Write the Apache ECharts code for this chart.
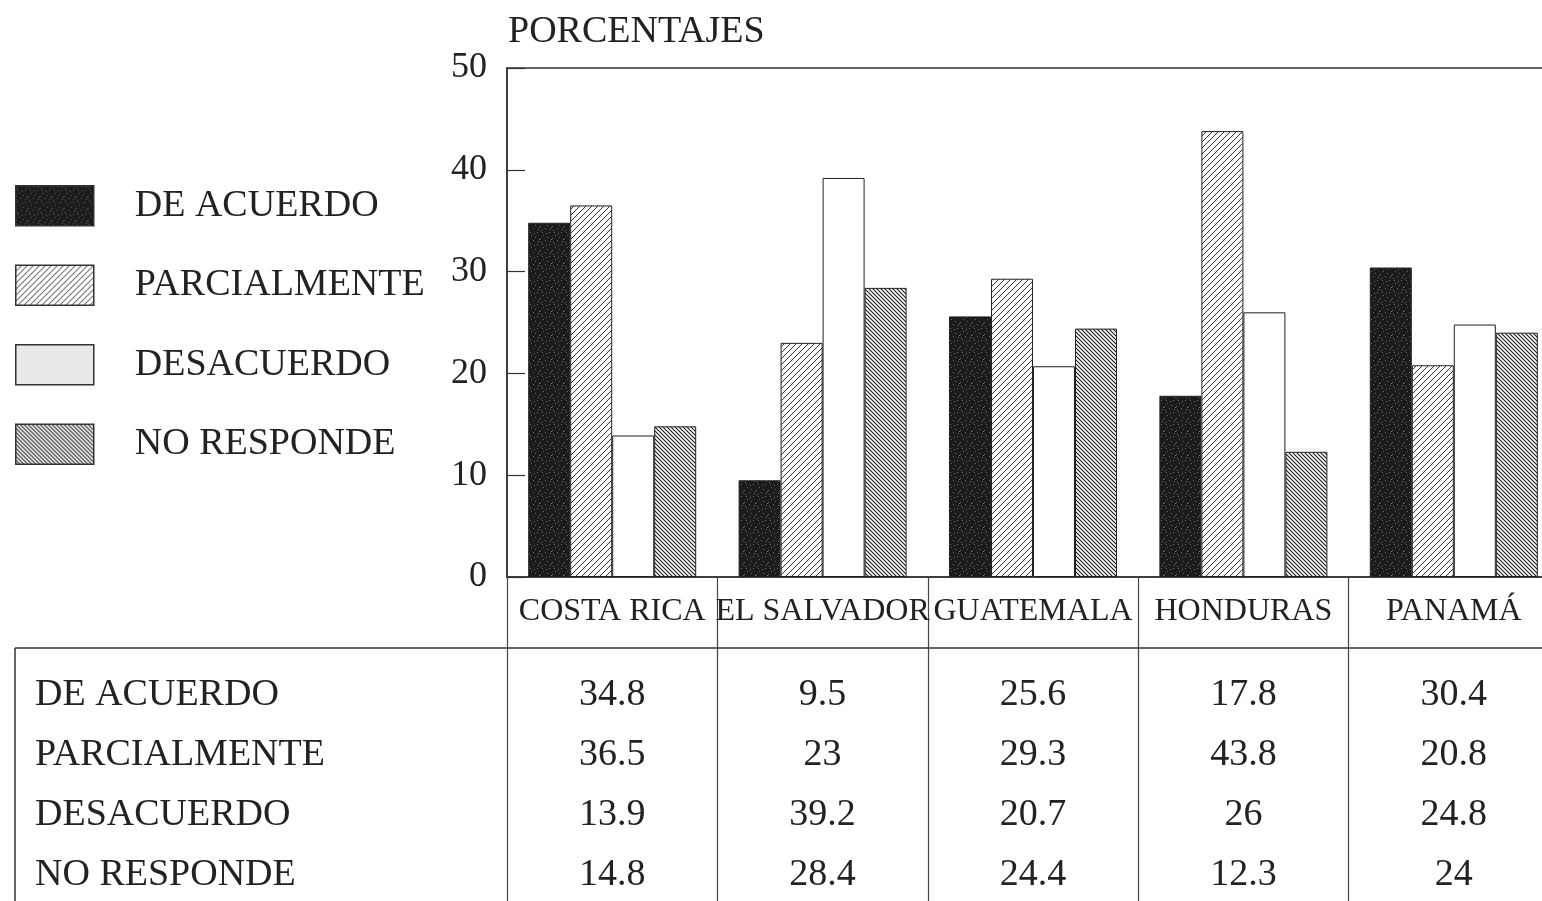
<!DOCTYPE html>
<html>
<head>
<meta charset="utf-8">
<script src="https://cdn.jsdelivr.net/npm/echarts@6/dist/echarts.min.js"></script>
<style>html,body{margin:0;padding:0;background:#fff;overflow:hidden;width:1542px;height:901px;}#c{width:1560px;height:901px;}</style>
</head>
<body>
<div id="c"></div>
<script>
var categories = ['COSTA RICA', 'EL SALVADOR', 'GUATEMALA', 'HONDURAS', 'PANAMÁ'];
var seriesNames = ['DE ACUERDO', 'PARCIALMENTE', 'DESACUERDO', 'NO RESPONDE'];
var deAcuerdo    = [34.8, 9.5, 25.6, 17.8, 30.4];
var parcialmente = [36.5, 23, 29.3, 43.8, 20.8];
var desacuerdo   = [13.9, 39.2, 20.7, 26, 24.8];
var noResponde   = [14.8, 28.4, 24.4, 12.3, 24];
var yTicks = [0, 10, 20, 30, 40, 50];
var tableRows = [deAcuerdo, parcialmente, desacuerdo, noResponde];

var FONT = '"Liberation Serif", "DejaVu Serif", serif';
var INK = '#222';

function makeCanvas(w, h, draw) {
  var c = document.createElement('canvas');
  c.width = w; c.height = h;
  draw(c.getContext('2d'), w, h);
  return c;
}
var darkPat = makeCanvas(12, 12, function (g, w, h) {
  g.fillStyle = '#1b1b1b'; g.fillRect(0, 0, w, h);
  g.fillStyle = '#6a6a6a';
  var pts = [[1,2],[5,0],[9,4],[3,7],[7,9],[11,11],[0,10],[6,5],[10,1],[2,4]];
  pts.forEach(function (p) { g.fillRect(p[0], p[1], 1, 1); });
});
var slashPat = makeCanvas(6, 6, function (g, w, h) {
  g.fillStyle = '#fff'; g.fillRect(0, 0, w, h);
  g.strokeStyle = '#333'; g.lineWidth = 1;
  g.beginPath();
  g.moveTo(-1, h + 1); g.lineTo(w + 1, -1);
  g.moveTo(-1, 1); g.lineTo(1, -1);
  g.moveTo(w - 1, h + 1); g.lineTo(w + 1, h - 1);
  g.stroke();
});
var backPat = makeCanvas(4, 4, function (g, w, h) {
  g.fillStyle = '#fff'; g.fillRect(0, 0, w, h);
  g.strokeStyle = '#1a1a1a'; g.lineWidth = 1.1;
  g.beginPath();
  g.moveTo(-1, -1); g.lineTo(w + 1, h + 1);
  g.moveTo(-1, h - 1); g.lineTo(1, h + 1);
  g.moveTo(w - 1, -1); g.lineTo(w + 1, 1);
  g.stroke();
});
var lightPat = makeCanvas(4, 4, function (g, w, h) {
  g.fillStyle = '#ececec'; g.fillRect(0, 0, w, h);
  g.fillStyle = '#d0d0d0'; g.fillRect(0, 0, 1, 1); g.fillRect(2, 2, 1, 1);
});

var fills = [
  { image: darkPat, repeat: 'repeat' },
  { image: slashPat, repeat: 'repeat' },
  '#ffffff',
  { image: backPat, repeat: 'repeat' }
];
var legendFills = [fills[0], fills[1], { image: lightPat, repeat: 'repeat' }, fills[3]];
var seriesData = [deAcuerdo, parcialmente, desacuerdo, noResponde];

var gridTop = 68, gridBottomY = 577;
var rowY = [695, 755, 815, 875];

var xAxes = [{
  type: 'category', data: categories, gridIndex: 0, position: 'bottom',
  axisLine: { show: true, lineStyle: { color: '#333', width: 1.5 } },
  axisTick: { show: true, interval: 0, length: 330, alignWithLabel: false, lineStyle: { color: '#444', width: 1.2 } },
  axisLabel: { interval: 0, color: INK, fontFamily: FONT, fontSize: 32, margin: 35, verticalAlign: 'middle' }
}];
rowY.forEach(function (y, r) {
  xAxes.push({
    type: 'category', data: categories, gridIndex: 0, position: 'bottom',
    offset: y - gridBottomY,
    axisLine: { show: false }, axisTick: { show: false }, splitLine: { show: false },
    axisLabel: {
      interval: 0, color: INK, fontFamily: FONT, fontSize: 38, margin: 0, verticalAlign: 'middle',
      formatter: function (v, i) { return String(tableRows[r][i]); }
    }
  });
});

var graphics = [
  { type: 'line', shape: { x1: 15, y1: 648, x2: 1560, y2: 648 }, style: { stroke: '#333', lineWidth: 1.5 } },
  { type: 'line', shape: { x1: 15, y1: 648, x2: 15, y2: 901 }, style: { stroke: '#333', lineWidth: 1.5 } },
  { type: 'text', x: 508, y: 32, style: { text: 'PORCENTAJES', fill: INK, font: '38px ' + FONT, verticalAlign: 'middle' } }
];
seriesNames.forEach(function (n, i) {
  graphics.push({ type: 'text', x: 35, y: rowY[i], style: { text: n, fill: INK, font: '38px ' + FONT, verticalAlign: 'middle' } });
});

var chart = echarts.init(document.getElementById('c'), null, { renderer: 'canvas' });
chart.setOption({
  animation: false,
  backgroundColor: '#fff',
  grid: { left: 507, top: gridTop, right: 1, bottom: 901 - gridBottomY, show: true, borderColor: '#333', borderWidth: 1.5 },
  legend: {
    orient: 'vertical', left: 15, top: 185, padding: 0, itemWidth: 78, itemHeight: 40, itemGap: 38,
    selectedMode: false, icon: 'rect',
    textStyle: { color: INK, fontFamily: FONT, fontSize: 38, padding: [0, 0, 0, 36] },
    data: seriesNames.map(function (n, i) {
      return { name: n, itemStyle: { color: legendFills[i], borderColor: '#333', borderWidth: 1.5 } };
    })
  },
  xAxis: xAxes,
  yAxis: {
    type: 'value', min: 0, max: 50, interval: 10,
    axisLine: { show: true, lineStyle: { color: '#333', width: 1.5 } },
    axisTick: { show: true, inside: true, length: 18, lineStyle: { color: '#333', width: 1.2 } },
    splitLine: { show: false },
    axisLabel: { color: INK, fontFamily: FONT, fontSize: 36, margin: 20,
      formatter: function (v) { return yTicks.indexOf(v) >= 0 ? String(v) : ''; } }
  },
  graphic: graphics,
  series: seriesNames.map(function (n, i) {
    return {
      name: n, type: 'bar', xAxisIndex: 0, data: seriesData[i],
      barWidth: 42, barGap: '0%',
      itemStyle: { color: fills[i], borderColor: '#222', borderWidth: 1 }
    };
  })
});
</script>
</body>
</html>
